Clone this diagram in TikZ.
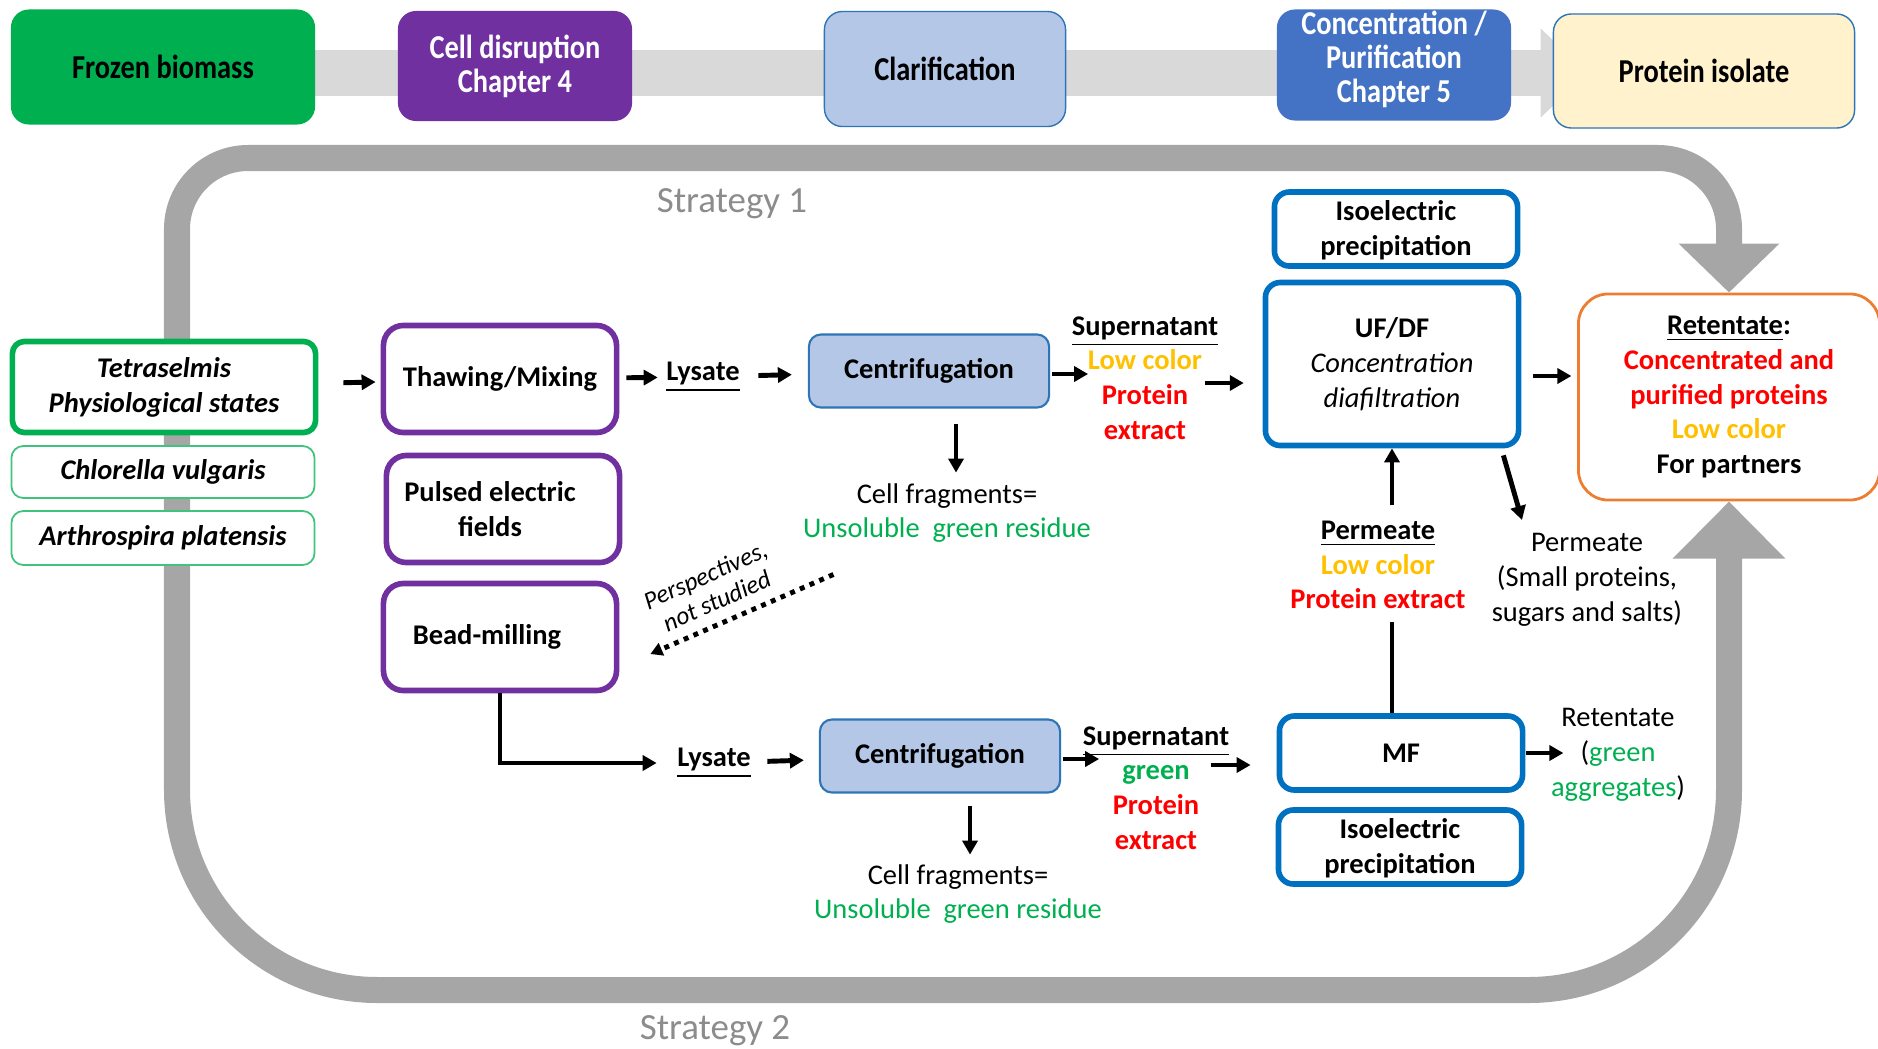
\documentclass[tikz,border=0pt]{standalone}
\usepackage{fontspec}
\setmainfont{Carlito}
\newfontfamily\stagefont{Carlito}[FakeStretch=0.85]
\usetikzlibrary{arrows.meta,backgrounds}
\definecolor{bgreen}{HTML}{00B050}
\definecolor{bpurple}{HTML}{7030A0}
\definecolor{lblue}{HTML}{B4C7E7}
\definecolor{mblue}{HTML}{4472C4}
\definecolor{dblue}{HTML}{0070C0}
\definecolor{eblue}{HTML}{2E75B6}
\definecolor{cream}{HTML}{FFF2CC}
\definecolor{orng}{HTML}{ED7D31}
\definecolor{gold}{HTML}{FFC000}
\definecolor{bred}{HTML}{FF0000}
\definecolor{barg}{HTML}{D9D9D9}
\definecolor{loopg}{HTML}{A6A6A6}
\definecolor{strg}{HTML}{8C8C8C}
\newcommand{\stagesize}{\stagefont\fontsize{9.5}{9.7}\selectfont}
\newcommand{\bodysize}{\fontsize{8.1}{9.9}\selectfont}
\newcommand{\stepleft}{\hspace*{-0.26cm}}
\begin{document}
\begin{tikzpicture}[x=0.01cm, y=-0.01cm,
  stagebox/.style={rounded corners=0.18cm, inner sep=0pt, align=center, font=\stagesize\bfseries},
  stepbox/.style={draw=bpurple, line width=1.6pt, fill=white, rounded corners=0.2cm, minimum width=2.33cm, minimum height=1.07cm, inner sep=0pt, align=center, font=\bodysize\bfseries},
  algabox/.style={draw=bgreen, fill=white, rounded corners=0.12cm, minimum width=3.03cm, inner sep=0pt, align=center, font=\bodysize\bfseries\itshape},
  centbox/.style={draw=eblue, line width=0.6pt, fill=lblue, rounded corners=0.12cm, minimum width=2.4cm, minimum height=0.73cm, inner sep=0pt, font=\bodysize\bfseries},
  membox/.style={draw=dblue, line width=1.6pt, fill=white, rounded corners=0.15cm, minimum width=2.43cm, minimum height=0.74cm, inner sep=0pt, align=center, font=\bodysize\bfseries},
  txt/.style={inner sep=0pt, align=center, font=\bodysize},
  arr/.style={line width=1.4pt, -{Triangle[length=0.14cm,width=0.15cm]}},
  dotarr/.style={line width=1.4pt, dash pattern=on 1.4pt off 1.6pt, -{Triangle[length=0.12cm,width=0.13cm]}},
  loopline/.style={line width=0.26cm, draw=loopg},
  strat/.style={inner sep=0pt, text=strg, font=\fontsize{10.5}{12}\selectfont}]
  \useasboundingbox (0,0) rectangle (1878,1048);

  \node[stagebox, fill=bgreen, minimum width=3.04cm, minimum height=1.15cm] (frozen) at (163,67) {Frozen biomass};
  \node[stagebox, fill=bpurple, text=white, minimum width=2.34cm, minimum height=1.1cm] (disrupt) at (515,66) {Cell disruption\\Chapter 4};
  \node[stagebox, fill=lblue, draw=eblue, minimum width=2.41cm, minimum height=1.15cm] (clarif) at (945,69) {Clarification};
  \node[stagebox, fill=mblue, text=white, minimum width=2.34cm, minimum height=1.11cm, text depth=0.17cm] (concpur) at (1394,65) {Concentration /\\Purification\\Chapter 5};
  \node[stagebox, fill=cream, draw=eblue, minimum width=3.01cm, minimum height=1.14cm] (isolate) at (1704,71) {Protein isolate};

  \node[strat] (strat1) at (732,204) {Strategy 1};
  \node[strat] (strat2) at (715,1031) {Strategy 2};

  \node[algabox, line width=1.6pt, minimum height=0.91cm] (tetra) at (164,387) {Tetraselmis\\Physiological states};
  \node[algabox, draw=bgreen!75, line width=0.5pt, minimum height=0.52cm] (chlor) at (163,472) {Chlorella vulgaris};
  \node[algabox, draw=bgreen!75, line width=0.5pt, minimum height=0.54cm] (arthro) at (163,538) {Arthrospira platensis};

  \node[stepbox] (thaw) at (500,379) {Thawing/Mixing};
  \node[stepbox] (pef) at (503,509) {\stepleft Pulsed electric\\\stepleft fields};
  \node[stepbox] (bead) at (500,637) {\stepleft Bead-milling};

  \node[txt, font=\bodysize\bfseries] (lys1) at (703,377) {\underline{Lysate}};
  \node[centbox] (cent1) at (929,371) {Centrifugation};
  \node[txt, font=\bodysize\bfseries] (sup1) at (1145,378) {\underline{Supernatant}\\\textcolor{gold}{Low color}\\\textcolor{bred}{Protein}\\\textcolor{bred}{extract}};
  \node[txt] (frag1) at (947,513) {Cell fragments=\\\textcolor{bgreen}{Unsoluble\ \ green residue}};
  \node[txt, font=\fontsize{7.2}{8}\selectfont\itshape, rotate=24] (persp) at (711,588) {Perspectives,\\not studied};

  \node[membox, text depth=0.02cm] (iep1) at (1396,229) {Isoelectric\\precipitation};
  \node[membox, minimum width=2.53cm, minimum height=1.63cm] (ufdf) at (1392,364) {UF/DF\\\mdseries\itshape Concentration\\\mdseries\itshape diafiltration};
  \node[draw=orng, line width=0.8pt, fill=white, rounded corners=0.3cm, minimum width=3.01cm, minimum height=2.06cm, inner sep=0pt, align=center, font=\bodysize\bfseries] (ret) at (1729,397) {\underline{Retentate}:\\\textcolor{bred}{Concentrated and}\\\textcolor{bred}{purified proteins}\\\textcolor{gold}{Low color}\\For partners};
  \node[txt, font=\bodysize\bfseries] (perm1) at (1378,565) {\underline{Permeate}\\\textcolor{gold}{Low color}\\\textcolor{bred}{Protein extract}};
  \node[txt] (perm2) at (1587,580) {Permeate\\(Small proteins,\\sugars and salts)};

  \node[txt, font=\bodysize\bfseries] (lys2) at (714,763) {\underline{Lysate}};
  \node[centbox] (cent2) at (940,756) {Centrifugation};
  \node[txt, font=\bodysize\bfseries] (sup2) at (1156,788) {\underline{Supernatant}\\\textcolor{bgreen}{green}\\\textcolor{bred}{Protein}\\\textcolor{bred}{extract}};
  \node[txt] (frag2) at (958,894) {Cell fragments=\\\textcolor{bgreen}{Unsoluble\ \ green residue}};
  \node[membox] (mf) at (1401,753) {MF};
  \node[membox, text depth=0.02cm] (iep2) at (1400,847) {Isoelectric\\precipitation};
  \node[txt] (ret2) at (1618,755) {Retentate\\(\textcolor{bgreen}{green}\\\textcolor{bgreen}{aggregates})};
  \coordinate (pend) at (1522,520);

  \begin{scope}[on background layer]
    \draw[line width=0.46cm, barg, -{Triangle[width=0.86cm,length=0.47cm]}] ([yshift=-0.06cm]frozen.center) -- ([xshift=0.35cm,yshift=-0.06cm]frozen.center -| isolate.west);
    \draw[loopline, {Triangle[width=1.09cm,length=0.57cm]}-{Triangle[width=0.98cm,length=0.49cm]}, rounded corners=2cm]
      (ret.south) -- (1729,990) -- (177,990) [rounded corners=0.71cm] -- (177,158) -- (1729,158) -- (ret.north);
  \end{scope}

  \draw[arr, shorten <=0.25cm, shorten >=0.05cm] (tetra) -- (thaw);
  \draw[arr, shorten <=0.07cm, shorten >=0.08cm] (thaw) -- (lys1);
  \draw[arr, shorten <=0.18cm, shorten >=0.16cm] (lys1) -- (cent1);
  \draw[arr, shorten <=0.02cm] ([yshift=-0.03cm]cent1.east) -- ++(38,0);
  \draw[arr] ([xshift=-0.14cm,yshift=-0.05cm]sup1.east) -- ++(39,0);
  \draw[arr] ([xshift=0.27cm,yshift=-0.15cm]cent1.south) -- ++(0,49);
  \draw[dotarr] ([xshift=0.31cm,yshift=-0.31cm]frag1.south west) -- ([xshift=0.31cm,yshift=-0.17cm]bead.east);
  \draw[arr] ([xshift=0.12cm,yshift=-0.12cm]ufdf.east) -- ++(38,0);
  \draw[arr] ([yshift=-0.57cm]ufdf.south) -- (ufdf.south);
  \draw[arr] ([xshift=-0.18cm,yshift=-0.07cm]ufdf.south east) -- (pend);
  \draw[line width=1.4pt] (mf.north -| ufdf.south) -- ++(0,-91);

  \draw[arr, shorten >=0.2cm] (bead.south) |- (lys2.west);
  \draw[arr, shorten <=0.16cm, shorten >=0.15cm] (lys2) -- (cent2);
  \draw[arr, shorten <=0.02cm] ([yshift=-0.03cm]cent2.east) -- ++(38,0);
  \draw[arr] ([xshift=-0.66cm,yshift=-0.12cm]mf.west) -- ++(40,0);
  \draw[arr, shorten <=0.01cm] (mf.east) -- ++(38,0);
  \draw[arr] ([xshift=0.3cm,yshift=-0.12cm]cent2.south) -- ++(0,49);
\end{tikzpicture}
\end{document}
